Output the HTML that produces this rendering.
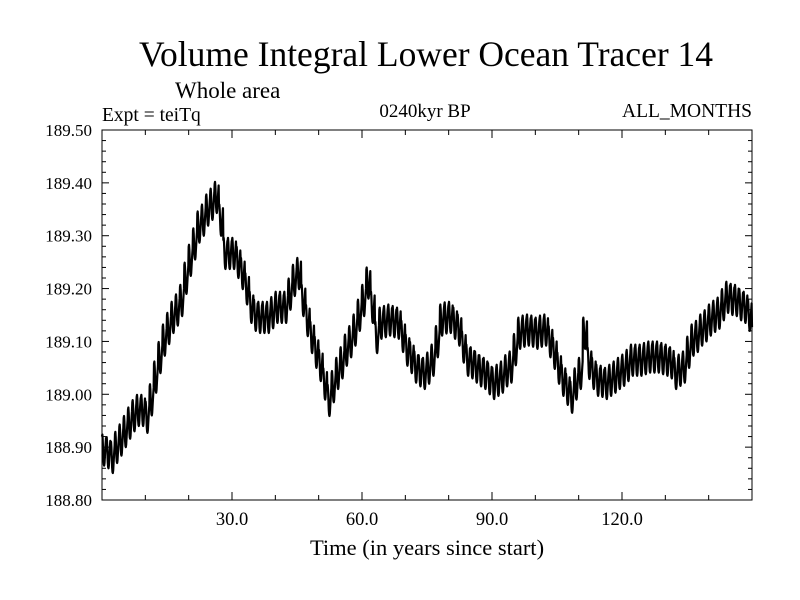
<!DOCTYPE html>
<html><head><meta charset="utf-8"><style>
body{margin:0;background:#fff;}
svg{display:block;font-family:"Liberation Serif",serif;}
</style></head><body>
<svg id="chart" width="800" height="600">
<rect width="800" height="600" fill="#fff"/>
<text x="426" y="66" font-size="35.5" text-anchor="middle">Volume Integral Lower Ocean Tracer 14</text>
<text x="175" y="98" font-size="23">Whole area</text>
<text x="102" y="121" font-size="19.5">Expt = teiTq</text>
<text x="425" y="117" font-size="19" text-anchor="middle">0240kyr BP</text>
<text x="752" y="117" font-size="19.5" text-anchor="end">ALL_MONTHS</text>
<text x="427" y="555" font-size="22.5" text-anchor="middle">Time (in years since start)</text>
<g id="axes"></g>
<path id="series" fill="none" stroke="#000" stroke-width="2.2" stroke-linejoin="round"/>
<rect x="102" y="130" width="650" height="370" fill="none" stroke="#000" stroke-width="1"/>
</svg>
<script>
const yearlyMeans=[188.895,188.89,188.881,188.90,188.914,188.93,188.946,188.96,188.970,188.97,
188.957,188.99,189.033,189.07,189.103,189.125,189.146,189.16,189.178,189.22,
189.254,189.285,189.317,189.33,189.349,189.36,189.373,189.33,189.267,189.267,
189.267,189.25,189.229,189.20,189.165,189.15,189.146,189.146,189.146,189.155,
189.165,189.165,189.165,189.19,189.216,189.229,189.178,189.14,189.108,189.08,
189.055,189.02,188.989,189.015,189.040,189.06,189.084,189.10,189.122,189.15,
189.178,189.211,189.165,189.108,189.135,189.138,189.141,189.138,189.135,189.11,
189.084,189.07,189.052,189.045,189.040,189.05,189.065,189.10,189.141,189.145,
189.146,189.135,189.122,189.09,189.065,189.06,189.052,189.045,189.040,189.03,
189.021,189.027,189.033,189.045,189.052,189.085,189.116,189.12,189.122,189.12,
189.116,189.12,189.122,189.10,189.078,189.05,189.027,189.01,188.995,189.02,
189.040,189.116,189.059,189.04,189.027,189.025,189.021,189.027,189.033,189.04,
189.046,189.055,189.065,189.065,189.065,189.068,189.071,189.071,189.071,189.068,
189.065,189.06,189.040,189.046,189.052,189.08,189.103,189.11,189.122,189.13,
189.141,189.148,189.154,189.17,189.184,189.18,189.178,189.17,189.165,189.15,189.127];
const seasonalAnomaly=[0.025,0.029,0.019,0.0,-0.019,-0.028,-0.030,-0.025,-0.012,0.0,0.012,0.022];
const yTickValues=[188.80,188.90,189.00,189.10,189.20,189.30,189.40,189.50];
const xTickValues=[30,60,90,120];
const xMin=0,xMax=150,yMin=188.8,yMax=189.5;
const L=102,R=752,T=130,B=500;
function sx(v){return L+(v-xMin)/(xMax-xMin)*(R-L);}
function sy(v){return B-(v-yMin)/(yMax-yMin)*(B-T);}
const NS='http://www.w3.org/2000/svg';
const axes=document.getElementById('axes');
function mk(tag,attrs){const e=document.createElementNS(NS,tag);for(const k in attrs)e.setAttribute(k,attrs[k]);axes.appendChild(e);return e;}
for(let i=0;i<=35;i++){const v=yMin+i*0.02;const y=sy(v);const major=i%5===0;const len=major?7:4;
 const t1=mk('line',{x1:L,x2:L+len,y1:y,y2:y,stroke:'#000','stroke-width':1});
 
 
 const t2=mk('line',{x1:R-len,x2:R,y1:y,y2:y,stroke:'#000','stroke-width':1});
 
 }
yTickValues.forEach(v=>{const t=mk('text',{x:92,y:sy(v)+6,'font-size':17,'text-anchor':'end'});t.textContent=v.toFixed(2);
 
 });
for(let yr=10;yr<150;yr+=10){const x=sx(yr);const major=yr%30===0;const len=major?8:5;
 const a=mk('line',{x1:x,x2:x,y1:B,y2:B-len,stroke:'#000','stroke-width':1});
 
 
 const b=mk('line',{x1:x,x2:x,y1:T,y2:T+len,stroke:'#000','stroke-width':1});
 
 }
xTickValues.forEach(v=>{const t=mk('text',{x:sx(v),y:525,'font-size':18.5,'text-anchor':'middle'});t.textContent=v.toFixed(1);
 
 });
let d='';
for(let yr=0;yr<yearlyMeans.length-1;yr++){for(let m=0;m<12;m++){const t=yr+m/12;const v=yearlyMeans[yr]+seasonalAnomaly[m];
 d+=(d?'L':'M')+sx(t).toFixed(2)+','+sy(v).toFixed(2);}}
d+='L'+sx(150).toFixed(2)+','+sy(yearlyMeans[150]).toFixed(2);
document.getElementById('series').setAttribute('d',d);
</script>
</body></html>
